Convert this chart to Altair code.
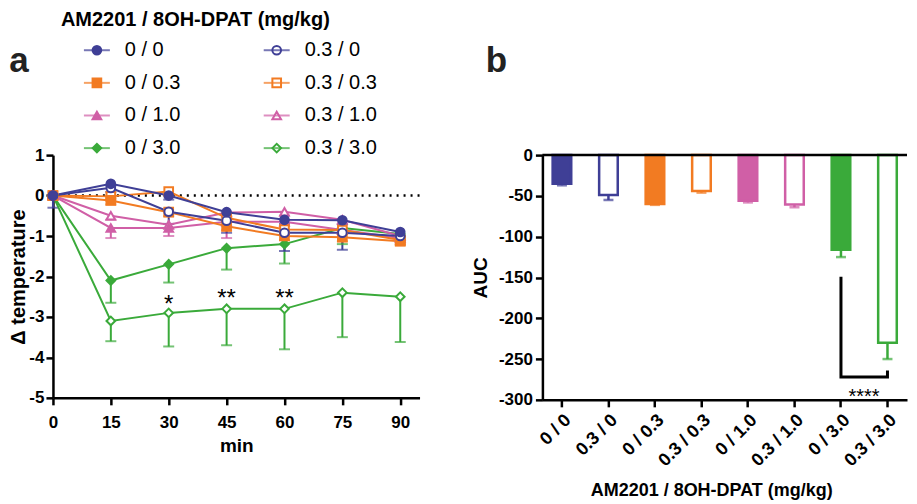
import altair as alt
import pandas as pd

FONT = "Liberation Sans"

# ---------------- data ----------------
times = [0, 15, 30, 45, 60, 75, 90]
groups = ["0 / 0", "0.3 / 0", "0 / 0.3", "0.3 / 0.3",
          "0 / 1.0", "0.3 / 1.0", "0 / 3.0", "0.3 / 3.0"]

colors = ["#3f3f96", "#3f3f96", "#f27b22", "#f27b22",
          "#d05fa6", "#d05fa6", "#3aaa3a", "#3aaa3a"]
fills = ["#3f3f96", "white", "#f27b22", "white",
         "#d05fa6", "white", "#3aaa3a", "white"]
shapes = ["circle", "circle", "square", "square",
          "triangle-up", "triangle-up", "diamond", "diamond"]

# panel a: mean change in temperature
mean_0_0 = [0, 0.29, 0.0, -0.41, -0.6, -0.61, -0.9]
mean_03_0 = [0, 0.19, -0.4, -0.62, -0.92, -0.92, -1.0]
mean_0_03 = [0, -0.12, -0.41, -0.76, -1.0, -1.03, -1.13]
mean_03_03 = [0, -0.02, 0.1, -0.55, -0.84, -0.85, -1.1]
mean_0_10 = [0, -0.8, -0.8, -0.65, -0.65, -0.85, -1.05]
mean_03_10 = [0, -0.5, -0.72, -0.42, -0.4, -0.6, -1.0]
mean_0_30 = [0, -2.1, -1.7, -1.3, -1.2, -0.8, -0.95]
mean_03_30 = [0, -3.1, -2.9, -2.8, -2.8, -2.4, -2.5]

# panel a: SEM
sem_0_0 = [0.3, 0.05, 0.1, 0.1, 0.1, 0.1, 0.1]
sem_03_0 = [0.05, 0.1, 0.3, 0.3, 0.45, 0.42, 0.1]
sem_0_03 = [0.1, 0.1, 0.1, 0.1, 0.1, 0.1, 0.1]
sem_03_03 = [0.05, 0.05, 0.1, 0.1, 0.1, 0.1, 0.1]
sem_0_10 = [0.05, 0.25, 0.2, 0.4, 0.1, 0.1, 0.1]
sem_03_10 = [0.05, 0.1, 0.1, 0.1, 0.1, 0.1, 0.1]
sem_0_30 = [0.05, 0.55, 0.45, 0.53, 0.48, 0.4, 0.1]
sem_03_30 = [0.05, 0.5, 0.83, 0.9, 1.0, 1.1, 1.12]

# significance marks in panel a
star_t = [30, 45, 60]
star_y = [-2.55, -2.4, -2.4]
star_txt = ["*", "**", "**"]

# panel b: AUC
auc = [-35, -49, -60, -44, -56, -60.5, -116, -230]
auc_sem = [2, 6, 1, 2, 2, 3.5, 9, 20]

bracket_x = ["0 / 3.0", "0 / 3.0", "0.3 / 3.0", "0.3 / 3.0"]
bracket_y = [-151, -272, -272, -266]
bracket_txt = "****"
bracket_txt_y = -289

legend_title = "AM2201 / 8OH-DPAT (mg/kg)"

# ---------------- tables ----------------
means = dict(zip(groups, [mean_0_0, mean_03_0, mean_0_03, mean_03_03,
                          mean_0_10, mean_03_10, mean_0_30, mean_03_30]))
sems = dict(zip(groups, [sem_0_0, sem_03_0, sem_0_03, sem_03_03,
                         sem_0_10, sem_03_10, sem_0_30, sem_03_30]))

draw_order = ["0.3 / 3.0", "0 / 3.0", "0.3 / 1.0", "0 / 1.0",
              "0.3 / 0.3", "0 / 0.3", "0.3 / 0", "0 / 0"]
rows = []
for g in draw_order:
    for t, m, e in zip(times, means[g], sems[g]):
        rows.append({"group": g, "t": t, "mean": m, "low": round(m - e, 3)})
dfA = pd.DataFrame(rows)

dfB = pd.DataFrame({"group": groups, "auc": auc,
                    "low": [a - e for a, e in zip(auc, auc_sem)]})
dfStar = pd.DataFrame({"t": star_t, "y": star_y, "txt": star_txt})
dfBr = pd.DataFrame({"group": bracket_x, "y": bracket_y,
                     "o": list(range(len(bracket_x)))})
dfLeg = pd.DataFrame({"group": groups,
                      "col": [i % 2 for i in range(len(groups))],
                      "row": [i // 2 for i in range(len(groups))]})

col_scale = alt.Scale(domain=groups, range=colors)
fill_scale = alt.Scale(domain=groups, range=fills)
shape_scale = alt.Scale(domain=groups, range=shapes)

HYPHEN = "'' + datum.value"


def stroke_enc():
    return alt.Stroke("group:N", scale=col_scale, legend=None)


def fill_enc():
    return alt.Fill("group:N", scale=fill_scale, legend=None)


def color_enc():
    return alt.Color("group:N", scale=col_scale, legend=None)


# ---------------- panel a ----------------
axA_x = alt.Axis(values=times, title="min", labelPadding=10, titlePadding=6,
                 labelFontSize=17, titleFontSize=19, labelFlush=False)
axA_y = alt.Axis(values=[1, 0, -1, -2, -3, -4, -5], title="Δ temperature",
                 labelPadding=2, titlePadding=0, labelFontSize=17,
                 titleFontSize=20, labelExpr=HYPHEN)
scA_x = alt.Scale(domain=[0, 95], nice=False, zero=False)
scA_y = alt.Scale(domain=[-5, 1], nice=False)


def xA(f="t"):
    return alt.X(f + ":Q", scale=scA_x, axis=axA_x)


def yA(f):
    return alt.Y(f + ":Q", scale=scA_y, axis=axA_y)


zero_dot = alt.Chart(pd.DataFrame({"z": [0]})).mark_rule(
    color="black", strokeWidth=2.5, strokeDash=[2, 5]
).encode(y=yA("z"))

err_rule = alt.Chart(dfA).mark_rule(strokeWidth=2).encode(
    x=xA(), y=yA("mean"), y2="low:Q", color=color_enc())
err_cap = alt.Chart(dfA).mark_tick(orient="horizontal", size=11, thickness=2).encode(
    x=xA(), y=yA("low"), color=color_enc())
lines = alt.Chart(dfA).mark_line(strokeWidth=2).encode(
    x=xA(), y=yA("mean"), color=color_enc(), detail="group:N", order="t:Q")
points = alt.Chart(dfA).mark_point(size=75, strokeWidth=2, opacity=1,
                                   fillOpacity=1).encode(
    x=xA(), y=yA("mean"), stroke=stroke_enc(), fill=fill_enc(),
    shape=alt.Shape("group:N", scale=shape_scale, legend=None))
stars = alt.Chart(dfStar).mark_text(fontSize=24, font=FONT, dy=6,
                                    color="black").encode(
    x=xA(), y=yA("y"), text="txt:N")

panelA = alt.layer(zero_dot, err_rule, err_cap, lines, points, stars).properties(
    width=367, height=243)

# ---------------- panel b ----------------
scB_x = alt.Scale(domain=groups, paddingInner=0.6, paddingOuter=0.22)
axB_x = alt.Axis(labelAngle=-45, labelFontSize=18, title=legend_title,
                 titleFontSize=18, labelPadding=4, titlePadding=12, titleX=169)
scB_y = alt.Scale(domain=[-300, 0], nice=False)
axB_y = alt.Axis(values=[0, -50, -100, -150, -200, -250, -300], title="AUC",
                 labelPadding=3, titlePadding=8, labelFontSize=17,
                 titleFontSize=19, labelExpr=HYPHEN)


def xB():
    return alt.X("group:N", sort=groups, scale=scB_x, axis=axB_x)


def yB(f):
    return alt.Y(f + ":Q", scale=scB_y, axis=axB_y)


bars = alt.Chart(dfB).mark_bar(strokeWidth=2.5).encode(
    x=xB(), y=yB("auc"), fill=fill_enc(), stroke=stroke_enc())
b_err = alt.Chart(dfB).mark_rule(strokeWidth=2.5).encode(
    x=xB(), y=yB("auc"), y2="low:Q", color=color_enc())
b_cap = alt.Chart(dfB).mark_tick(orient="horizontal", size=10, thickness=2.5).encode(
    x=xB(), y=yB("low"), color=color_enc())
zero_line = alt.Chart(pd.DataFrame({"z": [0]})).mark_rule(
    color="black", strokeWidth=2.5).encode(y=yB("z"))
bracket = alt.Chart(dfBr).mark_line(color="black", strokeWidth=3,
                                    strokeJoin="miter", strokeCap="square").encode(
    x=xB(), y=yB("y"), order="o:Q")
br_text = alt.Chart(pd.DataFrame({"group": ["0 / 3.0"], "y": [bracket_txt_y],
                                  "txt": [bracket_txt]})).mark_text(
    fontSize=20, font=FONT, dx=23, dy=6, color="black").encode(
    x=xB(), y=yB("y"), text="txt:N")

panelB = alt.layer(bars, b_err, b_cap, zero_line, bracket, br_text).properties(
    width=365, height=245)

# ---------------- legend / header ----------------
leg_x = alt.X("col:Q", scale=alt.Scale(domain=[0, 1], range=[44, 224]), axis=None)
leg_y = alt.Y("row:Q", scale=alt.Scale(domain=[0, 3], range=[30, 128]), axis=None)

leg_pts = alt.Chart(dfLeg).mark_point(size=75, strokeWidth=2, opacity=1,
                                      fillOpacity=1).encode(
    x=leg_x, y=leg_y, stroke=stroke_enc(), fill=fill_enc(),
    shape=alt.Shape("group:N", scale=shape_scale, legend=None))
leg_line = alt.Chart(dfLeg).mark_tick(orient="horizontal", size=26,
                                      thickness=2).encode(
    x=leg_x, y=leg_y, color=color_enc())
leg_txt = alt.Chart(dfLeg).mark_text(align="left", baseline="middle", dx=28,
                                     fontSize=20, font=FONT, color="black").encode(
    x=leg_x, y=leg_y, text="group:N")
leg_title = alt.Chart(pd.DataFrame({"txt": [legend_title]})).mark_text(
    align="left", baseline="middle", fontSize=20, fontWeight="bold", font=FONT,
    color="black").encode(x=alt.value(8), y=alt.value(0), text="txt:N")
lab_a = alt.Chart(pd.DataFrame({"txt": ["a"]})).mark_text(
    align="center", baseline="alphabetic", fontSize=35, fontWeight="bold",
    font=FONT, color="#222222").encode(x=alt.value(-34), y=alt.value(52), text="txt:N")
lab_b = alt.Chart(pd.DataFrame({"txt": ["b"]})).mark_text(
    align="center", baseline="alphabetic", fontSize=35, fontWeight="bold",
    font=FONT, color="#222222").encode(x=alt.value(444), y=alt.value(52), text="txt:N")

header = alt.layer(leg_pts, leg_line, leg_txt, leg_title, lab_a, lab_b).properties(
    width=853, height=135)

chart = alt.vconcat(
    header,
    alt.hconcat(panelA, panelB, spacing=123, bounds="flush"),
    spacing=0, bounds="flush"
).properties(
    padding={"left": 0, "top": 2, "right": 0, "bottom": 0}
).configure_view(stroke=None).configure_axis(
    labelFont=FONT, titleFont=FONT, labelFontWeight="bold",
    titleFontWeight="bold", labelColor="black", titleColor="black",
    domainColor="black", domainWidth=2.5, tickColor="black", tickWidth=2.5,
    tickSize=7, grid=False
).configure_text(font=FONT)

chart.save("out.html", embed_options={"renderer": "svg", "actions": False})
